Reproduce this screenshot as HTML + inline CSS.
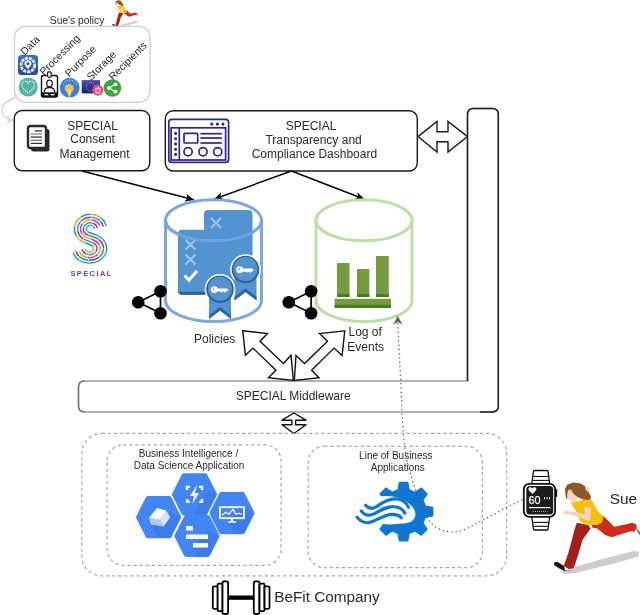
<!DOCTYPE html>
<html><head><meta charset="utf-8">
<style>
html,body{margin:0;padding:0;background:#fff;width:640px;height:615px;overflow:hidden}
svg{display:block;will-change:transform}
text{font-family:"Liberation Sans",sans-serif;fill:#2a2a2a}
</style></head><body>
<svg width="640" height="615" viewBox="0 0 640 615">
<defs>
<marker id="ah" viewBox="0 0 10 10" refX="9.5" refY="5" markerWidth="9" markerHeight="9" orient="auto" markerUnits="userSpaceOnUse">
<path d="M0,0.5 L10,5 L0,9.5 L2.5,5 Z" fill="#000"/>
</marker>
<linearGradient id="dataG" x1="0" y1="0" x2="0" y2="1"><stop offset="0" stop-color="#3f72c8"/><stop offset="1" stop-color="#24489a"/></linearGradient>
<g id="runner">
 <path d="M560.5,571 L598.7,560 L634.5,550.8 L639,552.5 L638.5,556.5 L615,563.3 L574.4,573.3 L563.5,574 Z" fill="#cdcdcd"/>
 <path d="M591.4,521.9 L603.6,516.2 L607.7,520.2 L614.2,526.7 L626.3,524.3 L632,522.7 L636.1,524.3 L636.9,527.5 L634.5,531.6 L629.6,531.6 L621.5,534 L611.7,537.3 L605.2,534.9 L597.1,528.4 L592.2,527.5 Z" fill="#d02a1f"/>
 <path d="M636,527.5 L640,532 L640,535.5 L637,531 Z" fill="#777"/>
 <path d="M576.8,522.7 L588.2,525.1 L590.6,528.4 L582.5,539.7 L578.4,554.3 L573.6,568.2 L567.9,569 L563.8,565.7 L567.9,554.3 L571.1,543 L574.4,530 Z" fill="#a61d1a"/>
 <path d="M554.1,562.5 L557.3,561.7 L563.8,565.7 L567.9,568.2 L570.3,570.6 L564.6,570.9 L558.9,568.2 L554.1,564.9 Z" fill="#151515"/>
 <path d="M564,566 L568,568.5 L570.3,570.6 L565,570.6 Z" fill="#eee"/>
 <path d="M571.1,500.7 L578.4,501.6 L587.4,497.5 L590.6,499.1 L594.7,505.6 L598.7,512.1 L603.6,516.2 L602,522.7 L597.1,525.1 L588.2,525.1 L580.9,521.9 L577.6,516.2 L576,510.5 L572.7,506.4 Z" fill="#f4c00c"/>
 <path d="M584.1,506.4 L590.6,507.2 L590.6,519.4 L588.2,521 L579.2,517 L569.5,514.5 L564.6,514.5 L563,512.1 L565.4,510.5 L570.3,511.3 L580.1,512.9 L584.9,514.5 Z" fill="#f6d2c2"/>
 <path d="M564.9,489.4 L567.1,484.8 L572.7,482.5 L580.1,483.2 L584.9,486.1 L588.2,491 L591.4,497.5 L589,499.9 L583.3,499.4 L577.6,497.2 L573.6,494.2 L571.1,491 L569.2,490.7 L567.9,494.2 L567.5,498.3 L566.2,499.1 L565.4,494.2 Z" fill="#8c5a28"/>
 <path d="M568.2,490.2 L571.1,489.4 L573.6,494.2 L577.6,497.5 L576.8,500.7 L574.4,502.4 L571.1,500.7 L567.9,499.1 L567.1,494.2 Z" fill="#f6d2c2"/>
 <path d="M585,487.5 L588,486.5 L590,489 L589,492 L586.5,491 Z" fill="#f6d2c2"/>
</g>
</defs>

<!-- ===== Policy box ===== -->
<text x="49.8" y="23.8" font-size="10.3">Sue's policy</text>
<use href="#runner" transform="translate(111.9,0.5) scale(0.3) translate(-553,-483)"/>
<rect x="14.5" y="26.3" width="135.5" height="76" rx="11" fill="none" stroke="#cfcfcf" stroke-width="1.3"/>
<!-- connector -->
<path d="M15,97.5 C1,103 -4,113 10,120" fill="none" stroke="#d4d4d4" stroke-width="1.4"/>
<path d="M6,115.6 L13.6,120.2 L6,124.8 L8.6,120.2 Z" fill="#d8d8d8"/>

<!-- rotated labels -->
<g font-size="10.5">
<text transform="translate(24.7,55.8) rotate(-45)">Data</text>
<text transform="translate(44,75.7) rotate(-45)">Processing</text>
<text transform="translate(69.2,77.4) rotate(-45)">Purpose</text>
<text transform="translate(90.9,81.1) rotate(-45)">Storage</text>
<text transform="translate(112.9,80.8) rotate(-45)">Recipients</text>
</g>
<!-- data icon -->
<rect x="18" y="55" width="20" height="20" rx="3.5" fill="url(#dataG)"/>
<circle cx="27.9" cy="65" r="6.8" fill="none" stroke="#e4ebf7" stroke-width="2.8" stroke-dasharray="3.2,0.9"/>
<path d="M27.9,69.2 L25.2,65.8 A3.4,3.4 0 1 1 30.6,65.8 Z" fill="#fff"/>
<circle cx="27.9" cy="63.7" r="1.6" fill="#2d56a8"/>
<!-- heart -->
<circle cx="28.2" cy="87" r="9.6" fill="#55b3a5"/>
<path d="M28.2,93 C24,89.6 21.8,87.5 21.8,85 C21.8,82.8 23.4,81.3 25.3,81.3 C26.6,81.3 27.6,82.1 28.2,83.1 C28.8,82.1 29.8,81.3 31.1,81.3 C33,81.3 34.6,82.8 34.6,85 C34.6,87.5 32.4,89.6 28.2,93 Z" fill="none" stroke="#e9f6f3" stroke-width="1.1" stroke-dasharray="1.6,1"/>
<!-- badge icon -->
<rect x="41.5" y="75.5" width="16" height="21.5" rx="2" fill="#fff" stroke="#111" stroke-width="1.4"/>
<rect x="47.6" y="71.8" width="3.6" height="5.5" rx="1.2" fill="#fff" stroke="#111" stroke-width="1.2"/>
<path d="M49.5,80 C51.3,80 52.3,81.3 52.3,83.2 C52.3,85.3 51.2,86.8 49.5,86.8 C47.8,86.8 46.7,85.3 46.7,83.2 C46.7,81.3 47.7,80 49.5,80 Z" fill="none" stroke="#111" stroke-width="1.2"/>
<path d="M44.2,92 C44.5,89.3 46,88 48,87.7 L51,87.7 C53,88 54.5,89.3 54.8,92" fill="none" stroke="#111" stroke-width="1.2"/>
<rect x="41.5" y="92.3" width="16" height="4.7" fill="#111"/>
<rect x="44.5" y="94" width="3.8" height="1.3" fill="#fff"/><rect x="50.7" y="94" width="3.8" height="1.3" fill="#fff"/>
<!-- bulb -->
<circle cx="69.7" cy="87.7" r="9.9" fill="#3c7de0"/>
<g stroke="#e3ecfb" stroke-width="1"><line x1="63.3" y1="84.3" x2="64.4" y2="85"/><line x1="64.8" y1="81.6" x2="65.7" y2="82.5"/><line x1="67.3" y1="80" x2="67.7" y2="81.2"/><line x1="70.1" y1="79.5" x2="70.1" y2="80.8"/><line x1="72.9" y1="80" x2="72.5" y2="81.2"/><line x1="75.3" y1="81.6" x2="74.5" y2="82.5"/><line x1="76.8" y1="84.3" x2="75.8" y2="85"/></g>
<circle cx="69.2" cy="88.4" r="4.5" fill="#f7c24a"/>
<path d="M66.6,91.5 L69.4,98 L72,91.5 Z" fill="#f7c24a"/>
<path d="M68.8,89 L69.5,98.5 L70.2,89" fill="#fff4d6"/>
<!-- EU flag -->
<defs><linearGradient id="euG" x1="0" y1="0" x2="0" y2="1"><stop offset="0" stop-color="#4d4fae"/><stop offset="1" stop-color="#1b1d80"/></linearGradient></defs>
<rect x="81.7" y="80.1" width="18.3" height="13.3" fill="url(#euG)"/>
<circle cx="90.7" cy="86.6" r="4.3" fill="none" stroke="#d8c040" stroke-width="0.9" stroke-dasharray="0.9,1.35"/>
<circle cx="97.9" cy="90.2" r="5.5" fill="#ea4b84"/>
<path d="M95.8,89.2 L96.2,93 L99.6,93 L100,89.2 M95.2,88.6 L100.6,88.6 M97,88.3 A0.9,0.9 0 0 1 98.8,88.3" fill="none" stroke="#fff" stroke-width="0.8"/>
<!-- share green -->
<circle cx="112.4" cy="88" r="8.8" fill="#38a83c"/>
<g fill="#fff"><circle cx="115.5" cy="84.3" r="1.9"/><circle cx="115.5" cy="91.7" r="1.9"/><circle cx="109" cy="88" r="1.9"/></g>
<path d="M115.5,84.3 L109,88 L115.5,91.7" fill="none" stroke="#fff" stroke-width="1.2"/>

<!-- ===== Consent box ===== -->
<rect x="14.3" y="110.5" width="135.5" height="60.3" rx="8" fill="#fff" stroke="#1a1a1a" stroke-width="1.4"/>
<text font-size="12" text-anchor="middle"><tspan x="92.5" y="129.6">SPECIAL</tspan><tspan x="92.6" y="143.3">Consent</tspan><tspan x="94.6" y="157.7">Management</tspan></text>
<!-- doc icon -->
<rect x="31" y="129" width="18.5" height="22.5" rx="2.5" fill="#2b2b2b"/>
<rect x="28" y="126" width="18" height="22" rx="2.5" fill="#fff" stroke="#2b2b2b" stroke-width="2.4"/>
<g stroke="#333" stroke-width="1.3"><line x1="35" y1="130.9" x2="42.1" y2="130.9"/><line x1="30.8" y1="134" x2="42.1" y2="134" stroke="#888"/><line x1="30.8" y1="137.1" x2="42.1" y2="137.1"/><line x1="30.8" y1="140.3" x2="42.1" y2="140.3" stroke="#777"/><line x1="30.8" y1="143.4" x2="42.1" y2="143.4"/></g>

<!-- ===== Dashboard box ===== -->
<rect x="165.3" y="110.7" width="252" height="60.3" rx="8" fill="#fff" stroke="#1a1a1a" stroke-width="1.4"/>
<text font-size="12" text-anchor="middle"><tspan x="311" y="130.3">SPECIAL</tspan><tspan x="313.6" y="144.3">Transparency and</tspan><tspan x="314.4" y="158.2">Compliance Dashboard</tspan></text>
<!-- dashboard icon -->
<g fill="none" stroke="#2b2889" stroke-width="1.7">
<rect x="168.8" y="119.3" width="59.8" height="43.1" rx="3"/>
<rect x="171.1" y="127.8" width="54.5" height="32.2"/>
<line x1="179.3" y1="127.8" x2="179.3" y2="160"/>
<rect x="184" y="133.4" width="13.7" height="9.6" rx="0.8"/>
<line x1="200.4" y1="133.7" x2="221.9" y2="133.7"/><line x1="200.4" y1="138" x2="221.9" y2="138"/><line x1="200.4" y1="143" x2="221.9" y2="143"/>
<circle cx="188.1" cy="151.8" r="4.1"/><circle cx="203" cy="151.8" r="4.1"/><circle cx="217.7" cy="151.8" r="4.1"/>
</g>
<g fill="#2b2889"><circle cx="175.6" cy="133.4" r="1.55"/><circle cx="175.6" cy="138.7" r="1.55"/><circle cx="175.6" cy="143.9" r="1.55"/><circle cx="175.6" cy="149.2" r="1.55"/><circle cx="175.6" cy="154.4" r="1.55"/>
<circle cx="211.8" cy="124.1" r="1.55"/><circle cx="217.4" cy="124.1" r="1.55"/><circle cx="223" cy="124.1" r="1.55"/></g>

<!-- double arrow dash<->middleware -->
<path d="M418,136.6 L437,121.5 L437,131.8 L448,131.8 L448,121.5 L467.5,136.6 L448,152 L448,141.8 L437,141.8 L437,152 Z" fill="#fff" stroke="#1a1a1a" stroke-width="1.4" stroke-linejoin="miter"/>

<!-- ===== Middleware L ===== -->
<path d="M473.5,108.6 L492.3,108.6 Q498.3,108.6 498.3,114.6 L498.3,406 Q498.3,411.9 492.3,411.9 L84.5,411.9 Q78.5,411.9 78.5,406 L78.5,387 Q78.5,381 84.5,381 L467.5,381 L467.5,114.6 Q467.5,108.6 473.5,108.6 Z" fill="#fff" stroke="#9a9a9a" stroke-width="1.5"/>
<path d="M467.5,381 L467.5,114.6 Q467.5,108.6 473.5,108.6 L492.3,108.6 Q498.3,108.6 498.3,114.6 L498.3,406 Q498.3,411.9 492.3,411.9 L480,411.9" fill="none" stroke="#222" stroke-width="1.5"/>
<path d="M84.5,411.9 Q78.5,411.9 78.5,406 L78.5,387 Q78.5,381 84.5,381" fill="none" stroke="#777" stroke-width="1.4"/>
<text x="293.2" y="400.4" font-size="12" text-anchor="middle">SPECIAL Middleware</text>

<!-- arrows from boxes -->
<line x1="82" y1="171" x2="193.7" y2="199.8" stroke="#000" stroke-width="1.4" marker-end="url(#ah)"/>
<line x1="291.4" y1="171" x2="214.5" y2="199" stroke="#000" stroke-width="1.4" marker-end="url(#ah)"/>
<line x1="291.4" y1="171" x2="364" y2="199" stroke="#000" stroke-width="1.4" marker-end="url(#ah)"/>

<!-- ===== Policies cylinder ===== -->
<path d="M165.5,220.3 L165.5,300.5 A48,21 0 0 0 261.5,300.5 L261.5,220.3" fill="#fff" stroke="#7ea6e0" stroke-width="3"/>
<ellipse cx="213.5" cy="220.3" rx="48" ry="20.5" fill="#fff" stroke="#7ea6e0" stroke-width="3"/>
<!-- policy icon -->
<g>
<path d="M204,214 Q204,210 208,210 L248.5,210 Q252.5,210 252.5,214 L252.5,285 L204,285 Z" fill="#5294cf"/>
<path d="M178,233.8 Q178,229.8 182,229.8 L230,229.8 L230,294.7 L182,294.7 Q178,294.7 178,290.7 Z" fill="#5294cf"/>
<path d="M178,290.7 Q178,294.7 182,294.7 L230,294.7 L230,291.7 L178,291.7 Z" fill="#2f639c"/>
<g stroke="#9cc0e6" stroke-width="2.2"><path d="M211,218 L221,228 M221,218 L211,228"/><path d="M185.5,239.8 L195.5,249.8 M195.5,239.8 L185.5,249.8"/><path d="M185.5,254.5 L195.5,264.5 M195.5,254.5 L185.5,264.5"/></g>
<path d="M184.5,275.5 L189,280 L197,271" fill="none" stroke="#fff" stroke-width="3"/>
<!-- badge2 -->
<circle cx="245.5" cy="269.5" r="15.3" fill="#fff"/>
<path d="M234.5,276 L256.5,276 L256.5,300.5 L245.5,292 L234.5,300.5 Z" fill="#5294cf"/>
<path d="M234.5,297 L245.5,288.5 L256.5,297 L256.5,300.5 L245.5,292 L234.5,300.5 Z" fill="#2f639c"/>
<circle cx="245.5" cy="269.5" r="13.8" fill="#2f639c"/>
<circle cx="245.5" cy="269" r="12" fill="#5294cf"/>
<!-- badge1 -->
<circle cx="220" cy="289.3" r="15.3" fill="#fff"/>
<path d="M209,298 L231,298 L231,319 L220,310.5 L209,319 Z" fill="#5294cf"/>
<path d="M209,315.5 L220,307 L231,315.5 L231,319 L220,310.5 L209,319 Z" fill="#2f639c"/>
<circle cx="220" cy="289.3" r="13.8" fill="#2f639c"/>
<circle cx="220" cy="288.8" r="12" fill="#5294cf"/>
<g fill="#fff">
<circle cx="214.3" cy="289.6" r="3.4"/><path d="M216,288.4 L226.5,288.4 L228.5,290 L226.5,291.6 L216,291.6 Z"/><rect x="221" y="290" width="1.6" height="2.4"/><rect x="224" y="290" width="1.6" height="2.4"/>
<circle cx="239.7" cy="269.7" r="3.4"/><path d="M241.4,268.5 L251.9,268.5 L253.9,270.1 L251.9,271.7 L241.4,271.7 Z"/><rect x="246.4" y="270.1" width="1.6" height="2.4"/><rect x="249.4" y="270.1" width="1.6" height="2.4"/>
</g>
<g fill="#3b74b8"><circle cx="213.6" cy="289.3" r="0.8"/><circle cx="239" cy="269.4" r="0.8"/></g>
</g>

<path d="M165.5,220.3 A48,20.5 0 0 0 261.5,220.3" fill="none" stroke="#7ea6e0" stroke-width="3" opacity="0.75"/>
<!-- ===== Log cylinder ===== -->
<path d="M316,220.3 L316,300.5 A48,21 0 0 0 412,300.5 L412,220.3" fill="#fff" stroke="#b9e0a5" stroke-width="3"/>
<ellipse cx="364" cy="220.3" rx="48" ry="20.5" fill="#fff" stroke="#b9e0a5" stroke-width="3"/>
<g>
<rect x="337" y="263" width="12.5" height="34" fill="#759d3e"/><rect x="337" y="294" width="12.5" height="3" fill="#4e7a26"/>
<rect x="357" y="269" width="12.3" height="28" fill="#759d3e"/><rect x="357" y="294" width="12.3" height="3" fill="#4e7a26"/>
<rect x="376" y="256" width="12.8" height="41" fill="#759d3e"/><rect x="376" y="294" width="12.8" height="3" fill="#4e7a26"/>
<rect x="334.6" y="298.8" width="56.4" height="9.2" fill="#759d3e"/><rect x="334.6" y="304.8" width="56.4" height="3.2" fill="#4e7a26"/>
</g>

<!-- share black icons -->
<g id="shareb">
<path d="M138.2,302.2 L160.5,291.3 L160.5,313.2 Z" fill="none" stroke="#000" stroke-width="1.7"/>
<circle cx="138.2" cy="302.2" r="6.3" fill="#000"/><circle cx="160.5" cy="291.3" r="6.3" fill="#000"/><circle cx="160.5" cy="313.2" r="6.3" fill="#000"/>
</g>
<use href="#shareb" transform="translate(150.6,0)"/>

<text x="194" y="343.3" font-size="12">Policies</text>
<text font-size="12"><tspan x="348.5" y="336.4">Log of</tspan><tspan x="347.3" y="350.5">Events</tspan></text>

<!-- hollow double arrows -->
<path d="M242.75,330.7 L267.5,333.5 L260,341.2 L283.4,363.5 L291,355.25 L293.4,380.4 L268.4,377.75 L276,370.25 L252.9,348.1 L245.4,355.25 Z" fill="#fff" stroke="#111" stroke-width="1.4"/>
<path d="M344.75,330.9 L319.6,333.5 L327.5,341.2 L304.6,363.5 L296,355.6 L294.3,380.4 L319,377.75 L311.6,370.25 L334,348.1 L342.1,355.6 Z" fill="#fff" stroke="#111" stroke-width="1.4"/>

<!-- small double arrow under middleware -->
<path d="M293.9,413 L306,420.2 L295.6,420.2 L295.6,424.7 L306,424.7 L293.9,433.5 L282,424.7 L291.9,424.7 L291.9,420.2 L282,420.2 Z" fill="#fff" stroke="#111" stroke-width="1.4" stroke-linejoin="round"/>

<!-- ===== Dashed boxes ===== -->
<rect x="81.7" y="433.4" width="425" height="142.4" rx="20" fill="none" stroke="#a8a8a8" stroke-width="1.2" stroke-dasharray="3.3,2.8"/>
<rect x="107.1" y="444.9" width="174" height="120.4" rx="16" fill="none" stroke="#a8a8a8" stroke-width="1.2" stroke-dasharray="3.3,2.8"/>
<rect x="308.2" y="446.3" width="174.2" height="121.4" rx="16" fill="none" stroke="#a8a8a8" stroke-width="1.2" stroke-dasharray="3.3,2.8"/>
<text font-size="10" text-anchor="middle"><tspan x="188.5" y="456.8">Business Intelligence /</tspan><tspan x="189.1" y="469">Data Science Application</tspan></text>
<text font-size="10" text-anchor="middle"><tspan x="395.8" y="458.5">Line of Business</tspan><tspan x="397.8" y="470.8">Applications</tspan></text>

<!-- hexagons -->
<defs><path id="hx" d="M-20,0 L-10.6,-18.6 L10.6,-18.6 L20,0 L10.6,18.6 L-10.6,18.6 Z" fill="#4285f4" stroke="#4285f4" stroke-width="5" stroke-linejoin="round"/></defs>
<g transform="translate(158.6,517.2)"><use href="#hx"/><path d="M4,-8 L14,-4 L21,0 L11.5,20.5 L0,20.5 L-6,11 Z" fill="#3b77e0" opacity="0.7"/>
 <path d="M-9.6,0.7 L1.6,2.6 L5.0,9.3 L-7.6,7.3 Z" fill="#aecbfa"/><path d="M7.6,-6.7 L11.6,0.0 L5.0,9.3 L1.6,2.6 Z" fill="#d6e4fc"/><path d="M-9.6,0.7 L-1.6,-9.2 L7.6,-6.7 L1.6,2.6 Z" fill="#fff"/></g>
<g transform="translate(194.5,494.4)"><use href="#hx"/><path d="M4,8 L14,-4 L21,0 L11.5,20.5 L0,20.5 Z" fill="#3b77e0" opacity="0.6"/>
 <g fill="none" stroke="#fff" stroke-width="2.3"><path d="M-7.5,-4.5 L-7.5,-7.5 L-4.5,-7.5"/><path d="M4.5,-7.5 L7.5,-7.5 L7.5,-4.5"/><path d="M7.5,4.5 L7.5,7.5 L4.5,7.5"/><path d="M-4.5,7.5 L-7.5,7.5 L-7.5,4.5"/></g>
 <path d="M2.5,-9.5 L-4.5,1.5 L-0.5,1.5 L-2,9.5 L4.5,-1.5 L0.5,-1.5 Z" fill="#fff"/></g>
<g transform="translate(232,513.2)"><use href="#hx"/><path d="M8,-4 L14,-4 L21,0 L11.5,20.5 L3,20.5 L-4,10 Z" fill="#3b77e0" opacity="0.6"/>
 <rect x="-12" y="-6" width="24" height="11" fill="none" stroke="#fff" stroke-width="1.8"/><path d="M-10,2 L-6,-1 L-3,1 L1,-4 L4,1 L7,0 L10,1" fill="none" stroke="#fff" stroke-width="1.2"/><rect x="-1" y="5" width="2" height="3" fill="#fff"/><rect x="-4" y="8" width="8" height="1.5" fill="#fff"/></g>
<g transform="translate(197,536)"><use href="#hx"/><path d="M11,-5 L14,-4 L21,0 L11.5,20.5 L0,20.5 L-5,14 Z" fill="#3b77e0" opacity="0.6"/>
 <g fill="#fff"><rect x="-11" y="-10" width="7" height="4.5"/><rect x="-11" y="-1.5" width="22" height="4.5"/><rect x="-4" y="7" width="15" height="4.5"/></g></g>

<!-- gear -->
<g transform="translate(403.6,511.6)">
<path d="M-5.6,-21.8 L-4.2,-29.2 L4.2,-29.2 L5.6,-21.8 L11.4,-19.4 L17.7,-23.6 L23.6,-17.7 L19.4,-11.4 L21.8,-5.6 L29.2,-4.2 L29.2,4.2 L21.8,5.6 L19.4,11.4 L23.6,17.7 L17.7,23.6 L11.4,19.4 L5.6,21.8 L4.2,29.2 L-4.2,29.2 L-5.6,21.8 L-11.4,19.4 L-17.7,23.6 L-23.6,17.7 L-19.4,11.4 L-21.8,5.6 L-29.2,4.2 L-29.2,-4.2 L-21.8,-5.6 L-19.4,-11.4 L-23.6,-17.7 L-17.7,-23.6 L-11.4,-19.4 Z" fill="#0f76d6" stroke="#0f76d6" stroke-width="1.2" stroke-linejoin="round"/>
<path d="M-32,-13 C-22,-17 -8,-16 0,-11.5 C9,-7 13,0 11.5,5 C10,10 5,12 -2,12 C-10,13 -22,14 -32,9 Z" fill="#fff"/>
<g fill="none" stroke="#0f76d6" stroke-width="3.2" stroke-linecap="round">
<path d="M-38,-6.4 C-35,-3 -31,-2.5 -27,-5 C-20,-10 -14,-13 -8,-12.7 C-2,-12.5 3,-9 4.8,-4.3"/>
<path d="M-42.3,-0.7 C-39,3.5 -34,4.5 -29,2 C-22,-2 -16,-5.5 -10,-5 C-5,-4.8 -0.5,-2 1.2,1.4"/>
<path d="M-46.6,5.6 C-43,10 -37,12.5 -31,10 C-24,7 -18,3 -12,2.8 C-7,2.8 -3.5,4.5 -2.3,6.3"/>
</g>
</g>

<!-- dotted lines -->
<path d="M397.8,323 L403.2,433 C405,460 414,490 425,514 C433,530 448,536 466,529 L523,499" fill="none" stroke="#555" stroke-width="1.3" stroke-dasharray="1.2,3.1"/>
<path d="M393.6,324.5 L397.7,315.6 L402.4,324.5 L397.9,322 Z" fill="#666"/>

<!-- watch -->
<g>
<path d="M531.8,483.5 L533.5,471.2 Q533.7,470.5 535,470.5 L546.5,470.5 Q547.8,470.5 548,471.2 L549.6,483.5" fill="#fff" stroke="#111" stroke-width="1.3"/>
<line x1="532.8" y1="476.5" x2="548.8" y2="476.5" stroke="#111" stroke-width="1.1"/><line x1="532.5" y1="480.4" x2="549.2" y2="480.4" stroke="#111" stroke-width="1.1"/>
<path d="M531.8,517 L533.5,529.3 Q533.7,530 535,530 L546.5,530 Q547.8,530 548,529.3 L549.6,517" fill="#fff" stroke="#111" stroke-width="1.3"/>
<line x1="532.5" y1="522.4" x2="549.2" y2="522.4" stroke="#111" stroke-width="1.1"/><line x1="532.8" y1="526.3" x2="548.8" y2="526.3" stroke="#111" stroke-width="1.1"/>
<rect x="555" y="489" width="2.2" height="8" rx="0.8" fill="#111"/>
<rect x="523.8" y="483.8" width="31.3" height="33" rx="5.5" fill="#fff" stroke="#111" stroke-width="1.8"/>
<rect x="526.3" y="486" width="26.9" height="28.6" rx="3.5" fill="#1c1c1c"/>
<path d="M532.4,494 L529,490.5 C527.8,489 528.8,487.2 530.4,487.2 C531.3,487.2 532,487.8 532.4,488.5 C532.8,487.8 533.5,487.2 534.4,487.2 C536,487.2 537,489 535.8,490.5 Z" fill="#fff"/>
<text x="528.6" y="504" font-size="10.8" style="fill:#fff;stroke:#fff;stroke-width:0.25">60</text>
<g fill="#fff"><rect x="544" y="497" width="0.9" height="2.3"/><rect x="546.5" y="497" width="0.9" height="2.3"/><rect x="549" y="497" width="0.9" height="2.3"/></g>
<rect x="529" y="507" width="21.6" height="1.2" fill="#fff"/>
<line x1="533" y1="511.4" x2="547.5" y2="511.4" stroke="#ddd" stroke-width="0.8" stroke-dasharray="1,1"/>
</g>

<!-- runner big -->
<use href="#runner"/>
<text x="609.8" y="504.2" font-size="15.4">Sue</text>

<!-- SPECIAL logo -->
<g fill="none" stroke-width="1.5" stroke-linecap="round">
<path d="M106.0,225.2 A16.1,14.6 0 1 0 83.7,242.2 L91.3,245.2 A4.2,3.6 0 1 1 85.4,249.4" stroke="#1fa38f" stroke-dasharray="9,12" stroke-dashoffset="0.0"/>
<path d="M106.0,225.2 A16.1,14.6 0 1 0 83.7,242.2 L91.3,245.2 A4.2,3.6 0 1 1 85.4,249.4" stroke="#f4a623" stroke-dasharray="9,12" stroke-dashoffset="10.5"/>
<path d="M103.1,225.9 A13.0,11.8 0 1 0 85.0,239.7 L92.7,242.7 A7.5,6.3 0 1 1 82.3,250.1" stroke="#7b3fa0" stroke-dasharray="9,12" stroke-dashoffset="4.5"/>
<path d="M103.1,225.9 A13.0,11.8 0 1 0 85.0,239.7 L92.7,242.7 A7.5,6.3 0 1 1 82.3,250.1" stroke="#2ea3dd" stroke-dasharray="9,12" stroke-dashoffset="15.0"/>
<path d="M100.2,226.6 A10.0,9.1 0 1 0 86.3,237.2 L94.0,240.3 A10.7,9.1 0 1 1 79.1,250.9" stroke="#f4a623" stroke-dasharray="9,12" stroke-dashoffset="9.0"/>
<path d="M100.2,226.6 A10.0,9.1 0 1 0 86.3,237.2 L94.0,240.3 A10.7,9.1 0 1 1 79.1,250.9" stroke="#e8327c" stroke-dasharray="9,12" stroke-dashoffset="19.5"/>
<path d="M97.2,227.4 A7.0,6.3 0 1 0 87.5,234.8 L95.4,237.8 A14.0,11.8 0 1 1 76.0,251.6" stroke="#1fa38f" stroke-dasharray="9,12" stroke-dashoffset="13.5"/>
<path d="M97.2,227.4 A7.0,6.3 0 1 0 87.5,234.8 L95.4,237.8 A14.0,11.8 0 1 1 76.0,251.6" stroke="#7b3fa0" stroke-dasharray="9,12" stroke-dashoffset="24.0"/>
<path d="M94.3,228.1 A4.0,3.6 0 1 0 88.8,232.3 L96.8,235.3 A17.2,14.6 0 1 1 72.9,252.3" stroke="#2ea3dd" stroke-dasharray="9,12" stroke-dashoffset="18.0"/>
<path d="M94.3,228.1 A4.0,3.6 0 1 0 88.8,232.3 L96.8,235.3 A17.2,14.6 0 1 1 72.9,252.3" stroke="#1fa38f" stroke-dasharray="9,12" stroke-dashoffset="28.5"/>
</g>
<text x="70.4" y="275.7" font-size="7.5" letter-spacing="1.4" style="fill:#6d3f9c;font-weight:bold">SPECIAL</text>

<!-- dumbbell -->
<g fill="#fff" stroke="#000" stroke-width="1.8">
<rect x="228" y="595.5" width="26" height="4.3" fill="#000" stroke="none"/>
<rect x="212.8" y="586.3" width="5" height="22.5" rx="1.2"/>
<rect x="217.6" y="583.6" width="5" height="27.6" rx="1.2"/>
<rect x="222.5" y="581.4" width="5.6" height="32.6" rx="1.5"/>
<rect x="253.8" y="581.4" width="5.6" height="32.6" rx="1.5"/>
<rect x="259.5" y="583.6" width="5" height="27.6" rx="1.2"/>
<rect x="264.5" y="586.3" width="5" height="22.5" rx="1.2"/>
</g>
<text x="274.2" y="601.7" font-size="15.3">BeFit Company</text>

</svg>
</body></html>
